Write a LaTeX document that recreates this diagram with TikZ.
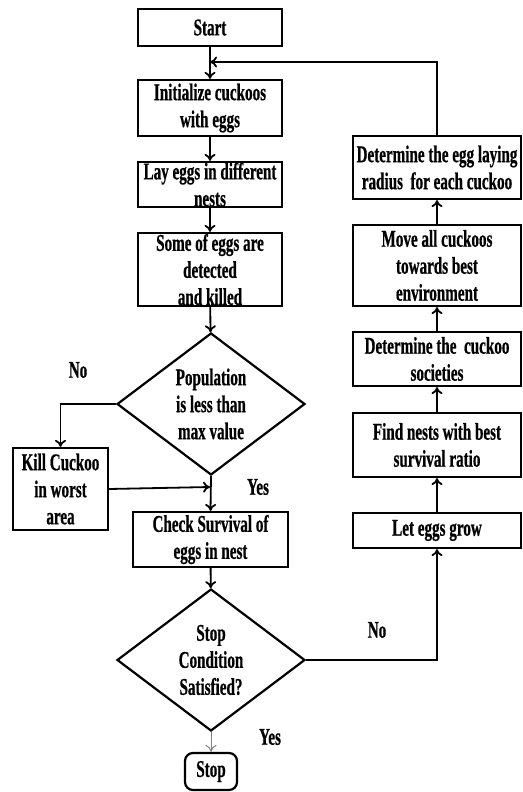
\documentclass[tikz,border=0pt]{standalone}
\usepackage{fontspec}
\setmainfont{Liberation Serif}[FakeStretch=0.63,FakeBold=0.6]
\usepackage{tikz}
\usepackage{xcolor}
\usetikzlibrary{shapes.geometric,arrows.meta}

\tikzset{
	stepbox/.style={draw,line width=2.2pt,align=center,inner sep=0pt,minimum width=144pt,font=\bfseries\fontsize{24}{27}\selectfont},
	sidebox/.style={stepbox,minimum width=168pt},
	decision/.style={stepbox,diamond,aspect=1.32,minimum width=188pt,minimum height=142pt},
	flow/.style={line width=1.8pt,-{To[length=7pt,width=11pt]}},
	answer/.style={font=\bfseries\fontsize{24}{27}\selectfont}
}

\begin{document}
\begin{tikzpicture}[x=1pt,y=-1pt]
			\useasboundingbox (0,0) rectangle (522,792);

			% main column
			\node[stepbox,minimum height=37pt] (start) at (210,27.5) {Start};
			\node[stepbox,minimum height=56pt] (init) at (210,108) {Initialize cuckoos\\with eggs};
			\node[stepbox,minimum height=45pt] (lay) at (210,184.5) {Lay eggs in different\\nests};
			\node[stepbox,minimum height=73pt] (detect) at (210,269.5) {Some of eggs are\\detected\\and killed};
			\node[decision] (population) at (211,404) {Population\\is less than\\max value};
			\node[stepbox,minimum width=95pt,minimum height=82pt] (kill) at (60.5,489) {Kill Cuckoo\\in worst\\area};
			\node[stepbox,minimum width=155pt,minimum height=55pt] (survival) at (210.5,539.5) {Check Survival of\\eggs in nest};
			\node[decision] (condition) at (211,660) {Stop\\Condition\\Satisfied?};
			\node[stepbox,rounded corners=8pt,minimum width=52pt,minimum height=37pt] (stop) at (211,771.5) {Stop};

			% right column
			\node[sidebox,minimum height=63pt] (radius) at (437,167.5) {Determine the egg laying\\radius~ for each cuckoo};
			\node[sidebox,minimum height=81pt] (move) at (437,265.5) {Move all cuckoos\\towards best\\environment};
			\node[sidebox,minimum height=54pt] (societies) at (437,359) {Determine the~ cuckoo\\societies};
			\node[sidebox,minimum height=64pt] (nests) at (437,445) {Find nests with best\\survival ratio};
			\node[sidebox,minimum height=35pt] (grow) at (437,530.5) {Let eggs grow};

			% labels
			\node[answer] (no1) at (78,370) {No};
			\node[answer] (yes1) at (258,487) {Yes};
			\node[answer] (no2) at (377,630) {No};
			\node[answer] (yes2) at (270,737) {Yes};

			\coordinate (loopin) at (210,62);
			\coordinate (merge) at (210,487);

			\draw[flow] (start) -- (init);
			\draw[flow] (init) -- (lay);
			\draw[flow] (lay) -- (detect);
			\draw[flow] (detect) -- (population);
			\draw[flow] (population.west) -| (kill.north);
			\draw[flow] (kill.east) -- (merge);
			\draw[flow] (population.south) -- (survival.north);
			\draw[flow] (survival) -- (condition);
			\draw[flow,gray,line width=1pt] (condition.south) -- (stop.north);
			\draw[flow] (condition.east) -| (grow.south);
			\draw[flow] (grow) -- (nests);
			\draw[flow] (nests) -- (societies);
			\draw[flow] (societies) -- (move);
			\draw[flow] (move) -- (radius);
			\draw[flow] (radius.north) |- (loopin);
		\end{tikzpicture}
\end{document}
